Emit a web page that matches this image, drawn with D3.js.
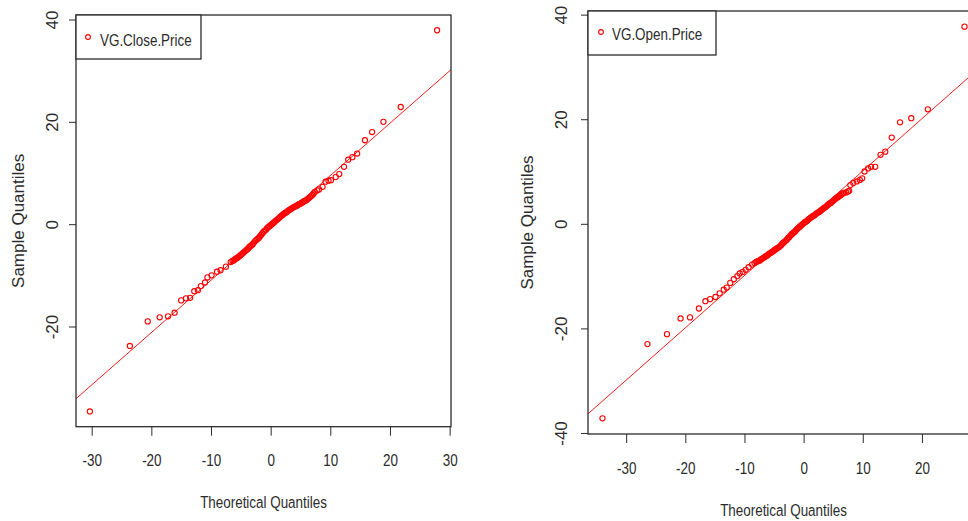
<!DOCTYPE html>
<html>
<head>
<meta charset="utf-8">
<script src="https://cdn.jsdelivr.net/npm/d3@7"></script>
<style>
  body { margin: 0; background: #fff; }
  svg { display: block; font-family: 'Liberation Sans', Arial, sans-serif; }
</style>
</head>
<body>
<svg class="chart"></svg>
<script>
// theoretical / sample quantiles
const closeX = [
  -30.3, -23.6, -20.6, -18.6, -17.2, -16.1, -15.0, -14.2, -13.5, -12.8,
  -12.2, -11.7, -11.0, -10.6, -9.9, -9.0, -8.4, -7.5, -6.7,
  -6.4, -6.2, -6.0, -5.8, -5.6, -5.4, -5.2, -5.0, -4.8, -4.6,
  -4.4, -4.2, -4.0, -3.8, -3.6, -3.4, -3.2, -3.0, -2.8, -2.6,
  -2.4, -2.2, -2.0, -1.8, -1.6, -1.4, -1.2, -1.0, -0.8, -0.6,
  -0.4, -0.2, 0.0, 0.2, 0.4, 0.6, 0.8, 1.0, 1.2, 1.4,
  1.6, 1.8, 2.0, 2.2, 2.4, 2.6, 2.8, 3.0, 3.2, 3.4,
  3.6, 3.8, 4.0, 4.2, 4.4, 4.6, 4.8, 5.0, 5.2, 5.4,
  5.6, 5.8, 6.0, 6.2, 6.4, 6.6, 6.8, 7.0, 7.2, 7.4,
  7.8, 8.1, 8.7, 9.2, 9.7, 10.1, 10.9, 11.5, 12.3, 13.0,
  13.7, 14.5, 15.8, 17.0, 18.9, 21.8, 27.9,
];
const closeY = [
  -36.6, -23.8, -19.0, -18.2, -18.0, -17.3, -14.9, -14.5, -14.4, -13.1,
  -12.9, -12.1, -11.4, -10.4, -10.0, -9.3, -9.0, -8.3, -7.4,
  -7.2, -7.1, -6.9, -6.7, -6.6, -6.4, -6.2, -6.0, -5.8, -5.6,
  -5.4, -5.2, -5.0, -4.8, -4.5, -4.3, -4.1, -3.9, -3.6, -3.3,
  -3.1, -2.9, -2.7, -2.4, -2.1, -1.8, -1.5, -1.3, -1.1, -0.8,
  -0.6, -0.4, -0.2, 0.0, 0.2, 0.4, 0.6, 0.8, 1.0, 1.2,
  1.4, 1.6, 1.8, 2.0, 2.2, 2.3, 2.5, 2.7, 2.8, 3.0,
  3.1, 3.3, 3.4, 3.5, 3.6, 3.8, 3.9, 4.0, 4.2, 4.3,
  4.5, 4.6, 4.7, 4.9, 5.1, 5.3, 5.5, 5.7, 6.0, 6.3,
  6.6, 6.8, 7.3, 8.3, 8.5, 8.6, 9.2, 9.8, 11.2, 12.6,
  13.1, 13.8, 16.4, 18.0, 20.0, 22.9, 37.9,
];
const openX = [
  -34.0, -26.4, -23.1, -20.8, -19.2, -17.7, -16.6, -15.8, -14.9, -14.2,
  -13.5, -13.0, -12.4, -11.8, -11.2, -10.8, -10.3, -9.8, -9.3, -8.7, -8.3,
  -8.0, -7.8, -7.6, -7.4, -7.2, -7.0, -6.8, -6.6, -6.4, -6.2,
  -6.0, -5.8, -5.6, -5.4, -5.2, -5.0, -4.8, -4.6, -4.4, -4.2,
  -4.0, -3.8, -3.6, -3.4, -3.2, -3.0, -2.8, -2.6, -2.4, -2.2,
  -2.0, -1.8, -1.6, -1.4, -1.2, -1.0, -0.8, -0.6, -0.4, -0.2,
  0.0, 0.2, 0.4, 0.6, 0.8, 1.0, 1.2, 1.4, 1.6, 1.8,
  2.0, 2.2, 2.4, 2.6, 2.8, 3.0, 3.2, 3.4, 3.6, 3.8,
  4.0, 4.2, 4.4, 4.6, 4.8, 5.0, 5.2, 5.4, 5.6, 5.8,
  6.0, 6.2, 6.4, 6.6, 6.8,
  7.2, 7.5, 7.7, 7.9, 8.4, 9.0, 9.5, 9.9, 10.3, 10.9,
  11.4, 12.1, 13.0, 13.8, 14.9, 16.3, 18.2, 21.0, 27.2,
];
const openY = [
  -37.2, -23.0, -21.1, -18.1, -17.9, -16.2, -14.8, -14.4, -14.0, -13.3,
  -12.6, -12.2, -11.3, -10.6, -10.0, -9.5, -9.2, -8.8, -8.3, -7.8, -7.5,
  -7.3, -7.2, -7.1, -7.0, -6.8, -6.7, -6.5, -6.4, -6.2, -6.1,
  -5.9, -5.7, -5.6, -5.4, -5.3, -5.1, -4.9, -4.8, -4.6, -4.5,
  -4.3, -4.1, -3.8, -3.6, -3.4, -3.2, -3.0, -2.7, -2.5, -2.2,
  -2.0, -1.8, -1.6, -1.4, -1.1, -0.9, -0.7, -0.5, -0.3, -0.1,
  0.1, 0.3, 0.4, 0.6, 0.8, 1.0, 1.2, 1.3, 1.5, 1.6,
  1.8, 2.0, 2.1, 2.3, 2.4, 2.6, 2.8, 3.0, 3.1, 3.3,
  3.5, 3.7, 3.9, 4.0, 4.2, 4.4, 4.6, 4.8, 5.0, 5.1,
  5.3, 5.4, 5.6, 5.8, 5.9,
  6.0, 6.2, 6.3, 7.4, 7.8, 8.1, 8.4, 8.7, 10.0, 10.6,
  10.9, 10.9, 13.2, 13.8, 16.5, 19.4, 20.2, 21.9, 37.7,
];
// qqline: intercept, slope
const closeLine = [-0.73, 1.023];
const openLine = [0.1, 1.0];
const legendNames = ['VG.Close.Price', 'VG.Open.Price'];
const xTitle = 'Theoretical Quantiles';
const yTitle = 'Sample Quantiles';

const width = 968;
const height = 521;
const squeeze = 'scale(0.79,1)';
const ink = '#2b2b2b';

const svg = d3.select('.chart')
  .attr('width', width)
  .attr('height', height);

function pad(ext) {
  const d = (ext[1] - ext[0]) * 0.04;
  return [ext[0] - d, ext[1] + d];
}

function drawPanel(xs, ys, qq, name, cfg) {
  const pts = d3.zip(xs, ys);
  const x = d3.scaleLinear().domain(pad(d3.extent(xs))).range([cfg.left, cfg.right]);
  const y = d3.scaleLinear().domain(pad(d3.extent(ys))).range([cfg.bottom, cfg.top]);
  const g = svg.append('g');

  g.append('clipPath').attr('id', cfg.id)
    .append('rect')
    .attr('x', cfg.left)
    .attr('y', cfg.top)
    .attr('width', cfg.right - cfg.left)
    .attr('height', cfg.bottom - cfg.top);

  const xd = x.domain();
  g.append('line')
    .attr('clip-path', `url(#${cfg.id})`)
    .attr('x1', x(xd[0]))
    .attr('y1', y(qq[0] + qq[1] * xd[0]))
    .attr('x2', x(xd[1]))
    .attr('y2', y(qq[0] + qq[1] * xd[1]))
    .style('stroke', 'red')
    .style('stroke-width', 0.9);

  g.selectAll('circle.pt')
    .data(pts)
    .enter()
    .append('circle')
    .attr('class', 'pt')
    .attr('cx', d => x(d[0]))
    .attr('cy', d => y(d[1]))
    .attr('r', 2.6)
    .style('fill', 'none')
    .style('stroke', 'red')
    .style('stroke-width', 1.1);

  // x axis
  const xAxis = g.append('g')
    .attr('transform', `translate(0,${cfg.bottom})`)
    .call(d3.axisBottom(x).ticks(6).tickSize(9).tickSizeOuter(0).tickFormat(d => String(d)))
    .attr('font-size', null)
    .attr('font-family', null);
  xAxis.select('.domain').remove();
  xAxis.selectAll('line').attr('stroke', ink);
  xAxis.selectAll('text')
    .attr('y', cfg.xLabelBase - cfg.bottom)
    .attr('dy', null)
    .attr('transform', squeeze)
    .attr('fill', ink)
    .style('font-size', '17px');

  // y axis
  const yAxis = g.append('g')
    .attr('transform', `translate(${cfg.left},0)`)
    .call(d3.axisLeft(y).ticks(5).tickSize(7).tickSizeOuter(0).tickFormat(d => String(d)))
    .attr('font-size', null)
    .attr('font-family', null);
  yAxis.select('.domain').remove();
  yAxis.selectAll('line').attr('stroke', ink);
  yAxis.selectAll('text')
    .attr('x', 0)
    .attr('y', cfg.yLabelX - cfg.left)
    .attr('dy', '0.35em')
    .attr('transform', 'rotate(-90)')
    .attr('text-anchor', 'middle')
    .attr('fill', ink)
    .style('font-size', '17px');

  // box
  g.append('rect')
    .attr('x', cfg.left)
    .attr('y', cfg.top)
    .attr('width', cfg.right - cfg.left)
    .attr('height', cfg.bottom - cfg.top)
    .style('fill', 'none')
    .style('stroke', ink)
    .style('stroke-width', 1.3);

  // titles
  g.append('text')
    .attr('transform', `translate(${(cfg.left + cfg.right) / 2},${cfg.titleBase}) ${squeeze}`)
    .attr('text-anchor', 'middle')
    .attr('fill', ink)
    .style('font-size', '17px')
    .text(xTitle);
  g.append('text')
    .attr('transform', `translate(${cfg.yTitleX},${(cfg.top + cfg.bottom) / 2}) rotate(-90)`)
    .attr('dy', '0.35em')
    .attr('text-anchor', 'middle')
    .attr('fill', ink)
    .style('font-size', '17px')
    .text(yTitle);

  // legend
  const lg = g.append('g').attr('transform', `translate(${cfg.left},${cfg.top})`);
  lg.append('rect')
    .attr('width', cfg.legW)
    .attr('height', cfg.legH)
    .style('fill', '#fff')
    .style('stroke', ink)
    .style('stroke-width', 1.3);
  lg.append('circle')
    .attr('cx', cfg.symX)
    .attr('cy', cfg.symY)
    .attr('r', 2.4)
    .style('fill', 'none')
    .style('stroke', 'red')
    .style('stroke-width', 1.1);
  lg.append('text')
    .attr('transform', `translate(${cfg.txtX},${cfg.txtBase}) ${squeeze}`)
    .attr('fill', ink)
    .style('font-size', '17px')
    .text(name);
}

drawPanel(closeX, closeY, closeLine, legendNames[0], {
  id: 'clipClose', left: 76, top: 15, right: 451, bottom: 426.7,
  xLabelBase: 466, titleBase: 508, yLabelX: 51.7, yTitleX: 18.3,
  legW: 125, legH: 44, symX: 12, symY: 22, txtX: 24, txtBase: 31,
});

drawPanel(openX, openY, openLine, legendNames[1], {
  id: 'clipOpen', left: 588, top: 11, right: 979, bottom: 434,
  xLabelBase: 474, titleBase: 516, yLabelX: 561.3, yTitleX: 527,
  legW: 128, legH: 44, symX: 13, symY: 21, txtX: 24, txtBase: 29,
});
</script>
</body>
</html>
